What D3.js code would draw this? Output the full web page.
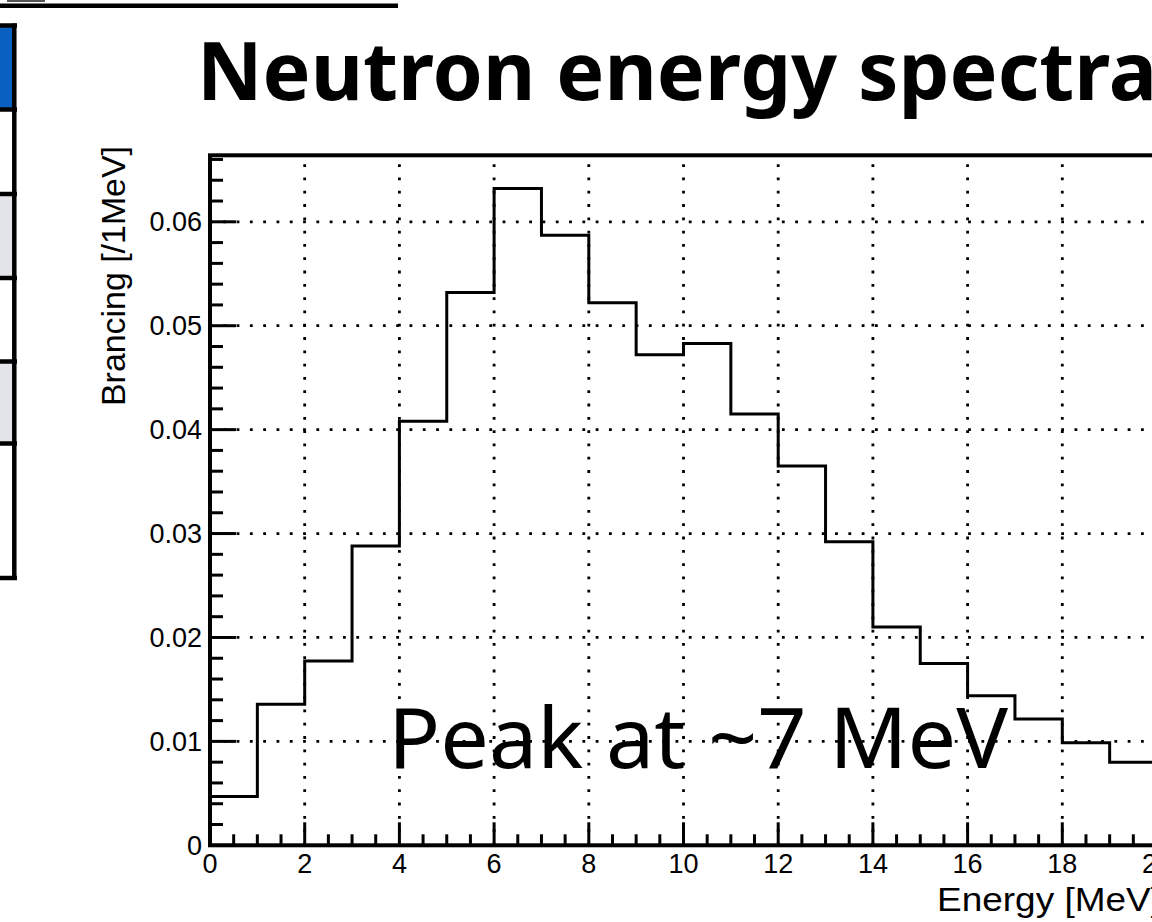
<!DOCTYPE html>
<html>
<head>
<meta charset="utf-8">
<script src="https://cdn.jsdelivr.net/npm/d3@7"></script>
<style>
  html, body { margin: 0; padding: 0; background: #ffffff; }
  svg { display: block; }
</style>
</head>
<body>
<svg id="chart" width="1152" height="922"></svg>
<script>
// ---- data ----
const binEdgesLow = [0,1,2,3,4,5,6,7,8,9,10,11,12,13,14,15,16,17,18,19];
const branching = [0.0047,0.01357,0.01773,0.0288,0.0408,0.0532,0.0632,0.0587,0.0522,0.0472,
                   0.0483,0.0415,0.0365,0.0292,0.0210,0.0175,0.0144,0.01215,0.00987,0.00799];
const xTicks = [0,2,4,6,8,10,12,14,16,18,20];
const yTicks = [0,0.01,0.02,0.03,0.04,0.05,0.06];
const yTickLabels = ["0","0.01","0.02","0.03","0.04","0.05","0.06"];
const titleText = "Neutron energy spectra";
const xTitle = "Energy [MeV]";
const yTitle = "Brancing [/1MeV]";
const annotation = "Peak at ~7 MeV";
const tableRowFills = ["#0a60c0","#ffffff","#e4e5ea","#ffffff","#e4e5ea","#ffffff"];

const svg = d3.select("#chart");

// ---- scales ----
const x = d3.scaleLinear().domain([0,20]).range([210,1157]);
const y = d3.scaleLinear().domain([0,0.0664]).range([845.3,155.3]);

// ---- top fragment (underline of cut-off heading) ----
svg.append("rect").attr("x",7).attr("y",0).attr("width",38).attr("height",2).attr("fill","#555");
svg.append("line").attr("x1",0).attr("x2",398).attr("y1",5.8).attr("y2",5.8)
  .attr("stroke","#000").attr("stroke-width",4.5);

// ---- left table fragment ----
const rowEdges = [25.5,109.5,194,278,361.5,443.5,578];
const tg = svg.append("g");
tableRowFills.forEach((f,i)=>{
  tg.append("rect").attr("x",0).attr("y",rowEdges[i]).attr("width",14)
    .attr("height",rowEdges[i+1]-rowEdges[i]).attr("fill",f);
});
rowEdges.forEach(e=>{
  tg.append("line").attr("x1",0).attr("x2",17).attr("y1",e).attr("y2",e)
    .attr("stroke","#000").attr("stroke-width",4.5);
});
tg.append("line").attr("x1",14.3).attr("x2",14.3).attr("y1",rowEdges[0]-2).attr("y2",rowEdges[6]+2)
  .attr("stroke","#000").attr("stroke-width",4.5);

// ---- title ----
svg.append("text").attr("x",197).attr("y",100)
  .attr("font-family","'Noto Sans', 'DejaVu Sans', sans-serif")
  .attr("font-weight",700).attr("font-size",80)
  .attr("textLength",960).attr("lengthAdjust","spacingAndGlyphs")
  .attr("fill","#000").text(titleText);

// ---- grid ----
const grid = svg.append("g").attr("stroke","#000").attr("stroke-width",2.8)
  .attr("stroke-dasharray","2.8,10.5").attr("fill","none");
xTicks.filter(t=>t>0).forEach(t=>{
  grid.append("line").attr("x1",x(t)).attr("x2",x(t)).attr("y1",y.range()[0]).attr("y2",y.range()[1]);
});
yTicks.filter(t=>t>0).forEach(t=>{
  grid.append("line").attr("x1",x(0)).attr("x2",x(20)).attr("y1",y(t)).attr("y2",y(t));
});

// ---- histogram ----
const pts = [[0,0]];
binEdgesLow.forEach((lo,i)=>{ pts.push([lo,branching[i]]); pts.push([lo+1,branching[i]]); });
pts.push([20,0]);
const line = d3.line().x(d=>x(d[0])).y(d=>y(d[1]));
svg.append("path").attr("d",line(pts)).attr("fill","none")
  .attr("stroke","#000").attr("stroke-width",3).attr("stroke-linejoin","miter");

// ---- axes ----
const xMinor = d3.range(0,20.001,0.5);
const yMinor = d3.range(0,0.0661,0.002);
const ax = svg.append("g").attr("stroke","#000").attr("stroke-width",3);
xMinor.forEach(t=>{
  const major = Math.abs(t/2 - Math.round(t/2))<1e-6;
  ax.append("line").attr("x1",x(t)).attr("x2",x(t)).attr("y1",y(0)).attr("y2",y(0)-(major?23:11));
});
yMinor.forEach(t=>{
  const major = Math.abs(t/0.01 - Math.round(t/0.01))<1e-6;
  ax.append("line").attr("x1",x(0)).attr("x2",x(0)+(major?26:13)).attr("y1",y(t)).attr("y2",y(t));
});
// frame
svg.append("rect").attr("x",x(0)).attr("y",y.range()[1]).attr("width",x(20)-x(0))
  .attr("height",y.range()[0]-y.range()[1]).attr("fill","none").attr("stroke","#000").attr("stroke-width",4);

// tick labels
const lab = "'Liberation Sans', Arial, Helvetica, sans-serif";
svg.append("g").selectAll("text").data(xTicks).join("text")
  .attr("x",d=>x(d)).attr("y",873).attr("text-anchor","middle")
  .attr("font-family",lab).attr("font-size",27).text(d=>d);
svg.append("g").selectAll("text").data(yTicks).join("text")
  .attr("x",x(0)-8).attr("y",d=>y(d)+9.5).attr("text-anchor","end")
  .attr("font-family",lab).attr("font-size",27).text((d,i)=>yTickLabels[i]);

// axis titles
svg.append("text").attr("x",937).attr("y",911).attr("font-family",lab)
  .attr("font-size",34).attr("textLength",224).attr("lengthAdjust","spacingAndGlyphs").text(xTitle);
svg.append("text").attr("transform","translate(125,406) rotate(-90)")
  .attr("font-family",lab).attr("font-size",34)
  .attr("textLength",260).attr("lengthAdjust","spacingAndGlyphs").text(yTitle);

// annotation
svg.append("text").attr("x",388).attr("y",768)
  .attr("font-family","'Noto Sans', 'DejaVu Sans', sans-serif")
  .attr("font-weight",400).attr("font-size",84)
  .attr("textLength",620).attr("lengthAdjust","spacingAndGlyphs")
  .attr("fill","#000").text(annotation);
</script>
</body>
</html>
